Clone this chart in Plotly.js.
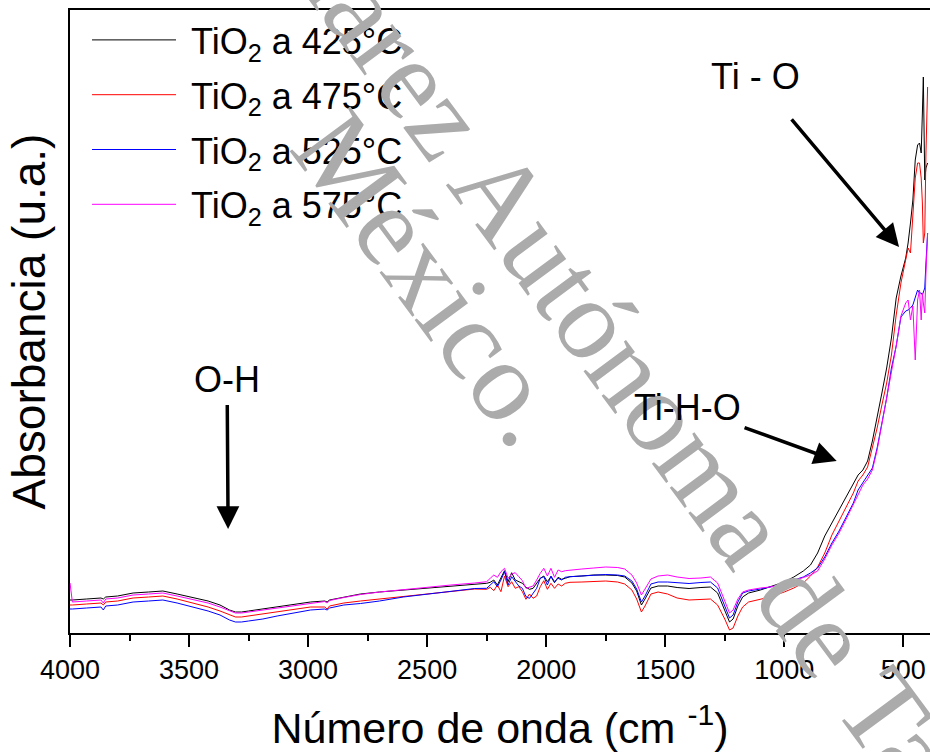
<!DOCTYPE html>
<html>
<head>
<meta charset="utf-8">
<script src="https://cdn.plot.ly/plotly-3.0.1.min.js"></script>
<style>html,body{margin:0;padding:0;background:#fff;}#chart{width:930px;height:752px;}</style>
</head>
<body>
<div id="chart"></div>
<script>
// Wavenumber (cm^-1)
const wavenumber = [4000,3990,3930,3870,3860,3850,3800,3735,3670,3610,3550,3480,3420,3370,3330,3305,3280,3250,3190,3130,3060,2990,2930,2920,2910,2850,2780,2700,2600,2500,2400,2300,
2250,2235,2220,2205,2190,2175,2160,2145,2130,2115,2100,2085,2070,2055,2040,2025,2010,1995,1980,1965,1950,1935,1920,1900,
1850,1800,1750,1700,1670,1640,1620,1600,
1585,1560,1530,1490,1450,1400,1350,1310,1280,1250,1230,1215,1195,1175,1150,1100,1060,
1000,960,920,890,860,830,800,770,740,710,690,670,650,630,610,590,570,550,
530,510,490,480,470,460,450,440,432,425,420,416,410,405,398];

// Absorbance (arbitrary units)
const abs425 = [33,33,34,35,34,36,37,40,41,42,39,35,32,28,23,21,21,22,24,26,28,31,32,31,33,36,39,41,43,45,47,48.5,
49.7,50.7,53,48,54.7,62.3,51.3,60.3,53,51.3,49.7,45.7,43.7,44.7,49.7,54.7,57,51.3,56.3,50.3,55.7,53.7,54.7,56.3,
57,58,58,57.5,56,50,42,28,
34,45,47,47,45.5,44.5,45.5,46,40,23,11,14,27,36,40,43,46,
51,56,62,68,80,97,110,122,135,148,158,163,172,192,215,240,265,295,
335,357,375,390,410,433,473,488,490,480,520,556,453,465,470];

const abs475 = [28,28,29,30,28,31,32,35,36,37,34,30,26,22,18,16,16,17,19,21,23,26,26,24,27,30,32,34,37,39.5,42,44,
43.7,45.7,42.3,48,41.3,57,46.3,51.3,44.7,46.3,41.3,33.7,39,34.7,37,46.3,52.3,43.7,49.7,44.7,49,47,49.7,50.7,
51,51.5,52,51,49,43,34,21,
27,39,41,39,35,33,33.5,34,28,14,3,5,17,26,31,34,36,
41,45,50,57,66,80,98,112,126,140,152,158,166,185,205,228,250,278,
318,350,372,385,380,420,455,470,470,455,430,390,400,480,546];

const abs525 = [24,24,25,26,23,27,28,31,32,33,30,26,22,18,13,11,11,12,14,17,20,23,24,23,25,28,29.5,32,36,39,42,44.5,
44.7,48,51.3,46.3,53,61.3,48,56.3,51.3,47,44.7,36.3,34.7,40.3,44.7,54.7,56.3,48,57,51.3,54.7,53,55.7,56.3,
57,58,58.5,58,57,52,44,31,
37,49,51,51,50.5,49.5,50.5,51,45,27,15,18,31,40,42,44,46,
49,53,56,60,65,76,90,102,116,130,143,150,157,165,185,210,235,265,
287,316,322,323,325,328,335,343,340,340,338,342,345,370,400];

const abs575 = [50,31,32,33,30,34,35,38,39,40,37,33,30,26,22,20,20,21,23,25,27,30,31.5,30,32.5,35.5,38.5,41,43.5,46,48,50,
51.3,54.7,58,55.7,61.3,64.7,54.7,59,60.3,56.3,52.3,44.7,45.7,47,53,59.7,64.7,57,64.7,55.7,63,61.3,62.3,63,
64,65,66,65.5,64,58,50,38,
44,54,57,58,56,54.5,55,56,50,32,20,23,34,41,43,45,46,
49,52,55,58,62,74,88,100,114,128,138,148,154,163,183,208,233,262,
287,317,330,333,313,327,273,333,343,313,340,330,320,360,400];

const seriesNames = ['\u00a0TiO<sub>2</sub> a 425°C','\u00a0TiO<sub>2</sub> a 475°C','\u00a0TiO<sub>2</sub> a 525°C','\u00a0TiO<sub>2</sub> a 575°C'];
const seriesColors = ['#000000','#ff0000','#0000ff','#ff00ff'];
const seriesData = [abs425, abs475, abs525, abs575];

// Band labels and the point (wavenumber, absorbance) each arrow points at
const bandLabels = ['Ti - O', 'Ti-H-O', 'O-H'];
const bandTipWn = [518, 780, 3336];
const bandTipAbs = [386, 172, 104];

const traces = seriesData.map((ys, i) => ({
  type: 'scatter', mode: 'lines', x: wavenumber, y: ys,
  name: seriesNames[i], legendgroup: 'g' + i,
  line: {color: seriesColors[i], width: 1}
}));

const FONT = 'Arial, "Liberation Sans", sans-serif';
const SERIF = '"Liberation Serif", "Times New Roman", serif';
const arrowOffsets = [[-144, -171, 28], [-149, -54, 2], [-1, -150, 4]];

const bandAnnotations = bandLabels.map((t, i) => ({
  x: bandTipWn[i], y: bandTipAbs[i], text: t, showarrow: true,
  ax: arrowOffsets[i][0], ay: arrowOffsets[i][1], startstandoff: arrowOffsets[i][2],
  arrowhead: 2, arrowsize: 1.3, arrowwidth: 3.5, arrowcolor: '#000',
  font: {size: 36, family: FONT, color: '#000'}
}));

const layout = {
  width: 930, height: 752,
  margin: {l: 70, r: 0, t: 10, b: 119},
  paper_bgcolor: '#ffffff', plot_bgcolor: '#ffffff',
  font: {family: FONT, color: '#000000'},
  showlegend: true,
  legend: {x: 0.0198, y: 1.0, xanchor: 'left', yanchor: 'top', font: {size: 36, family: FONT},
           itemwidth: 84, tracegroupgap: 5, bgcolor: 'rgba(0,0,0,0)'},
  xaxis: {range: [4000, 388], showline: true, linewidth: 2, linecolor: '#000', mirror: true,
          ticks: 'outside', ticklen: 12, tickwidth: 2, tickcolor: '#000', dtick: 500, tick0: 0,
          minor: {dtick: 250, ticks: 'outside', ticklen: 6, tickwidth: 2, tickcolor: '#000', showgrid: false},
          tickfont: {size: 27, family: FONT}, showgrid: false, zeroline: false,
          title: {text: 'Número de onda (cm <sup>-1</sup>)', font: {size: 43, family: FONT}, standoff: 29}},
  yaxis: {range: [0, 623], showline: true, linewidth: 2, linecolor: '#000', ticks: '',
          showticklabels: false, showgrid: false, zeroline: false,
          title: {text: 'Absorbancia (u.a.)\u00a0\u00a0\u00a0', font: {size: 46, family: FONT}, standoff: 8}},
  annotations: [
    {xref: 'paper', yref: 'paper', x: 0.7174, y: 0.2986, xanchor: 'center', yanchor: 'middle',
     text: 'Juárez Autónoma de Tabasco', showarrow: false, textangle: 53.5,
     font: {family: SERIF, size: 115, color: '#ababab'}},
    {xref: 'paper', yref: 'paper', x: 0.421, y: 0.5696, xanchor: 'center', yanchor: 'middle',
     text: 'México.', showarrow: false, textangle: 53.5,
     font: {family: SERIF, size: 115, color: '#ababab'}}
  ].concat(bandAnnotations)
};

Plotly.newPlot('chart', traces, layout, {displayModeBar: false, staticPlot: true});
</script>
</body>
</html>
